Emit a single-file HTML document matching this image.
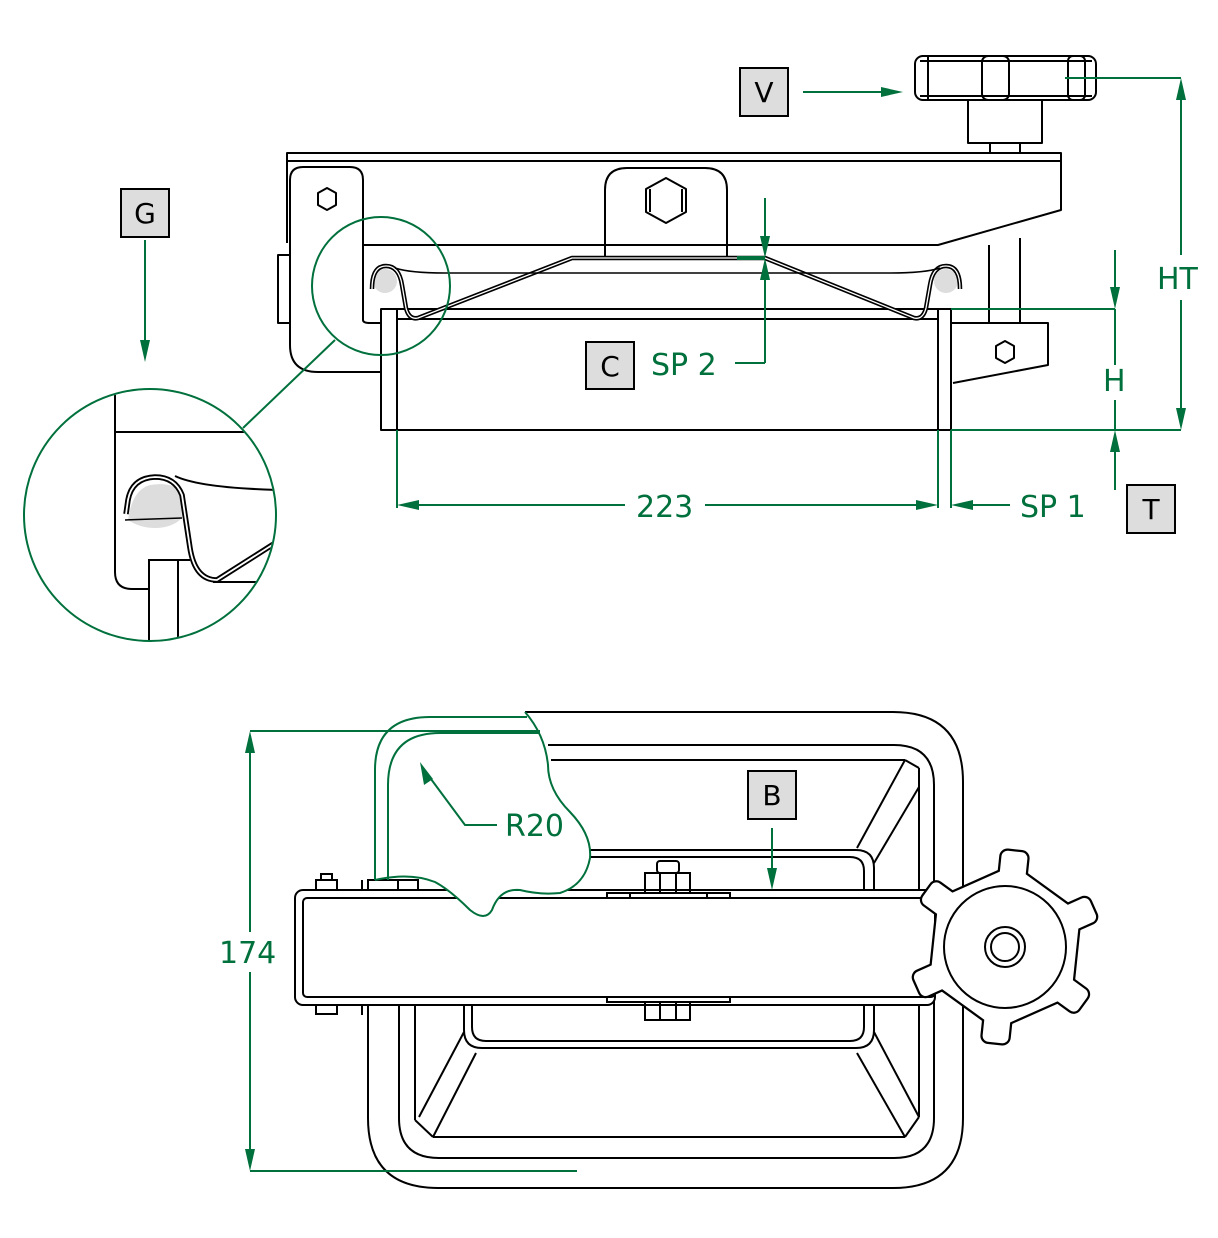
<!DOCTYPE html>
<html><head><meta charset="utf-8"><style>
html,body{margin:0;padding:0;background:#fff}
svg{display:block}
text{font-family:"DejaVu Sans","Liberation Sans",sans-serif}
</style></head><body>
<svg width="1218" height="1238" viewBox="0 0 1218 1238" xmlns="http://www.w3.org/2000/svg">
<defs>
<clipPath id="cg"><circle cx="150" cy="515" r="125"/></clipPath>
</defs>
<g fill="none" stroke="#000" stroke-width="2" stroke-linejoin="round">
<rect x="915" y="56" width="181" height="44" rx="8" fill="#fff"/>
<line x1="920" y1="61" x2="1092" y2="61"/><line x1="920" y1="96" x2="1092" y2="96"/>
<line x1="928" y1="57" x2="928" y2="99"/>
<rect x="982" y="56" width="27" height="44" rx="6"/>
<rect x="1068" y="56" width="17" height="44" rx="5"/>
<rect x="968" y="100" width="74" height="43"/>
<rect x="990" y="143" width="30" height="10"/>
<path d="M287,243 L287,153 L1061,153 L1061,210 L938,245 L363,245"/>
<line x1="287" y1="161" x2="1061" y2="161"/>
<path d="M363,320 L363,180 Q363,167 350,167 L303,167 Q290,167 290,180 L290,345 Q290,372 318,372 L381,372"/>
<path d="M363,320 Q363,323 370,323 L381,323"/>
<rect x="278" y="255" width="12" height="68"/>
<polygon points="327,188 336,193 336,205 327,210 318,205 318,193"/>
<path d="M605,258 L605,190 Q605,168 627,168 L705,168 Q727,168 727,190 L727,258"/>
<polygon points="666,178 686,189 686,212 666,223 646,212 646,189"/>
<line x1="650" y1="189" x2="650" y2="212"/><line x1="682" y1="189" x2="682" y2="212"/>
<line x1="989" y1="245" x2="989" y2="323"/><line x1="1020" y1="238" x2="1020" y2="323"/>
<path d="M951,323 L1048,323 L1048,365 L953,383"/>
<polygon points="1005,341 1014,346 1014,358 1005,363 996,358 996,346"/>
<rect x="381" y="309" width="570" height="121"/>
<line x1="397" y1="309" x2="397" y2="430"/><line x1="938" y1="309" x2="938" y2="430"/>
<line x1="397" y1="319" x2="938" y2="319"/>
<circle cx="385" cy="281" r="12" fill="#ddd" stroke="none"/>
<circle cx="946" cy="281" r="12" fill="#ddd" stroke="none"/>
<path d="M372,289 Q372,266 386,266 Q399,266 402,285 L406,308 Q409,320 418,318 L572,258 L765,258 L914,318 Q923,320 926,308 L930,285 Q933,266 946,266 Q960,266 960,289" stroke-width="4.5"/>
<path d="M372,289 Q372,266 386,266 Q399,266 402,285 L406,308 Q409,320 418,318 L572,258 L765,258 L914,318 Q923,320 926,308 L930,285 Q933,266 946,266 Q960,266 960,289" stroke="#fff" stroke-width="1.3"/>
<path d="M395,268 Q410,273 445,273 L890,273 Q925,273 940,268" stroke-width="1.5"/>
</g>
<g clip-path="url(#cg)" fill="none" stroke="#000" stroke-width="2">
<path d="M115,380 L115,572 Q115,589 132,589 L149,589"/>
<line x1="115" y1="432" x2="280" y2="432"/>
<path d="M128,520 Q140,528 155,528 Q172,528 182,518 L180,490 Q170,482 150,485 Q132,490 128,520Z" fill="#ddd" stroke="none"/>
<line x1="125" y1="520" x2="182" y2="518" stroke-width="1.5"/>
<path d="M126,514 L128,500 Q132,478 155,477 Q175,477 182,495 L190,548 Q195,580 217,580 L280,540" stroke-width="5.5"/>
<path d="M126,514 L128,500 Q132,478 155,477 Q175,477 182,495 L190,548 Q195,580 217,580 L280,540" stroke="#fff" stroke-width="1.8"/>
<path d="M175,476 Q200,488 280,490"/>
<rect x="149" y="560" width="29" height="90"/>
<line x1="178" y1="560" x2="190" y2="560"/>
<line x1="213" y1="582" x2="260" y2="582"/>
</g>
<g fill="none" stroke="#000" stroke-width="2">
<path d="M525,712 L893,712 Q963,712 963,782 L963,1118 Q963,1188 893,1188 L438,1188 Q368,1188 368,1118 L368,893"/>
<path d="M548,745 L894,745 Q934,745 934,785 L934,1118 Q934,1158 894,1158 L439,1158 Q399,1158 399,1118 L399,1003"/>
<line x1="551" y1="760" x2="905" y2="760"/>
<line x1="905" y1="760" x2="857" y2="848"/><line x1="919" y1="787" x2="874" y2="863"/>
<line x1="919" y1="768" x2="919" y2="1117"/><line x1="905" y1="760" x2="919" y2="768"/>
<line x1="415" y1="1003" x2="415" y2="1120"/>
<line x1="415" y1="1120" x2="433" y2="1137"/><line x1="433" y1="1137" x2="905" y2="1137"/><line x1="905" y1="1137" x2="919" y2="1117"/>
<line x1="464" y1="1032" x2="419" y2="1117"/><line x1="476" y1="1053" x2="433" y2="1137"/>
<line x1="857" y1="1053" x2="905" y2="1137"/><line x1="874" y1="1032" x2="919" y2="1117"/>
<path d="M588,850 L856,850 Q874,850 874,868 L874,893"/>
<path d="M588,857 L850,857 Q864,857 864,871 L864,893"/>
<path d="M464,1003 L464,1030 Q464,1048 482,1048 L856,1048 Q874,1048 874,1030 L874,1003"/>
<path d="M472,1003 L472,1027 Q472,1041 486,1041 L850,1041 Q864,1041 864,1027 L864,1003"/>
<rect x="295" y="890" width="640" height="115" rx="8" fill="#fff"/>
<rect x="303" y="898" width="632" height="99" rx="4"/>
<rect x="607" y="893" width="123" height="5"/><line x1="630" y1="893" x2="630" y2="898"/><line x1="707" y1="893" x2="707" y2="898"/>
<rect x="645" y="873" width="45" height="20"/><rect x="657" y="861" width="22" height="12" rx="3"/>
<line x1="660" y1="873" x2="660" y2="893"/><line x1="676" y1="873" x2="676" y2="893"/>
<rect x="607" y="997" width="123" height="5"/>
<rect x="645" y="1002" width="45" height="18"/><line x1="660" y1="1002" x2="660" y2="1020"/><line x1="676" y1="1002" x2="676" y2="1020"/>
<rect x="316" y="880" width="21" height="10"/><rect x="321" y="874" width="11" height="6"/>
<rect x="316" y="1005" width="21" height="9"/>
<line x1="362" y1="880" x2="362" y2="890"/><line x1="362" y1="1005" x2="362" y2="1015"/>
<line x1="303" y1="1005" x2="362" y2="1005"/>
<rect x="368" y="880" width="50" height="10"/><line x1="398" y1="880" x2="398" y2="890"/>
</g>
<g transform="translate(1005,947)">
<g stroke="#000" stroke-width="4.5" fill="#000">
<polygon points="8.6,-81.5 74.9,-33.4 66.3,48.2 -8.6,81.5 -74.9,33.4 -66.3,-48.2"/>
<g transform="rotate(6)"><rect x="-13" y="-96" width="26" height="30" rx="6"/></g>
<g transform="rotate(66)"><rect x="-13" y="-96" width="26" height="30" rx="6"/></g>
<g transform="rotate(126)"><rect x="-13" y="-96" width="26" height="30" rx="6"/></g>
<g transform="rotate(186)"><rect x="-13" y="-96" width="26" height="30" rx="6"/></g>
<g transform="rotate(246)"><rect x="-13" y="-96" width="26" height="30" rx="6"/></g>
<g transform="rotate(306)"><rect x="-13" y="-96" width="26" height="30" rx="6"/></g>
</g>
<g fill="#fff" stroke="none">
<polygon points="8.6,-81.5 74.9,-33.4 66.3,48.2 -8.6,81.5 -74.9,33.4 -66.3,-48.2"/>
<g transform="rotate(6)"><rect x="-13" y="-96" width="26" height="30" rx="6"/></g>
<g transform="rotate(66)"><rect x="-13" y="-96" width="26" height="30" rx="6"/></g>
<g transform="rotate(126)"><rect x="-13" y="-96" width="26" height="30" rx="6"/></g>
<g transform="rotate(186)"><rect x="-13" y="-96" width="26" height="30" rx="6"/></g>
<g transform="rotate(246)"><rect x="-13" y="-96" width="26" height="30" rx="6"/></g>
<g transform="rotate(306)"><rect x="-13" y="-96" width="26" height="30" rx="6"/></g>
</g>
<g fill="none" stroke="#000" stroke-width="2">
<circle r="61"/><circle r="20"/><circle r="14"/>
</g>
</g>
<g fill="none" stroke="#00703c" stroke-width="2">
<path d="M525,712 Q545,735 548,765 Q548,790 570,812 Q592,835 590,858 Q585,885 560,893 Q540,895 520,890 Q500,888 492,910 Q485,922 470,910 Q450,890 435,882 Q410,872 375,880" fill="#fff"/>
<path d="M375,880 L375,770 Q375,717 430,717 L527,717"/>
<path d="M388,880 L388,785 Q388,733 440,733 L540,733"/>
</g>
<g fill="none" stroke="#00703c" stroke-width="2">
<circle cx="381" cy="286" r="69"/>
<circle cx="150" cy="515" r="126"/>
<line x1="335" y1="340" x2="243" y2="428"/>
<line x1="145" y1="240" x2="145" y2="345"/>
<line x1="803" y1="92" x2="888" y2="92"/>
<line x1="1065" y1="78" x2="1181" y2="78"/>
<line x1="1181" y1="95" x2="1181" y2="255"/><line x1="1181" y1="300" x2="1181" y2="413"/>
<line x1="951" y1="309" x2="1115" y2="309"/>
<line x1="951" y1="430" x2="1181" y2="430"/>
<line x1="1115" y1="250" x2="1115" y2="292"/><line x1="1115" y1="447" x2="1115" y2="490"/>
<line x1="1115" y1="309" x2="1115" y2="365"/><line x1="1115" y1="400" x2="1115" y2="430"/>
<line x1="397" y1="430" x2="397" y2="508"/><line x1="938" y1="430" x2="938" y2="508"/><line x1="951" y1="430" x2="951" y2="508"/>
<line x1="414" y1="505" x2="625" y2="505"/><line x1="705" y1="505" x2="921" y2="505"/>
<line x1="968" y1="505" x2="1010" y2="505"/>
<line x1="765" y1="198" x2="765" y2="241"/><line x1="765" y1="275" x2="765" y2="363"/><line x1="735" y1="363" x2="765" y2="363"/>
<line x1="737" y1="258" x2="765" y2="258" stroke-width="4"/>
<line x1="772" y1="828" x2="772" y2="873"/>
<line x1="250" y1="731" x2="540" y2="731"/><line x1="250" y1="1171" x2="577" y2="1171"/>
<line x1="250" y1="748" x2="250" y2="932"/><line x1="250" y1="972" x2="250" y2="1154"/>
<polyline points="497,825 465,825 428,775"/>
</g>
<g fill="#00703c">
<polygon points="145,362 140,340 150,340"/>
<polygon points="903,92 881,87 881,97"/>
<polygon points="1181,78 1176,100 1186,100"/>
<polygon points="1181,430 1176,408 1186,408"/>
<polygon points="1115,309 1110,287 1120,287"/>
<polygon points="1115,430 1110,452 1120,452"/>
<polygon points="397,505 419,500 419,510"/>
<polygon points="938,505 916,500 916,510"/>
<polygon points="951,505 973,500 973,510"/>
<polygon points="765,258 760,236 770,236"/>
<polygon points="765,258 760,280 770,280"/>
<polygon points="772,890 767,868 777,868"/>
<polygon points="250,731 245,753 255,753"/>
<polygon points="250,1171 245,1149 255,1149"/>
<polygon points="420,762 424,785 433,779"/>
</g>
<g fill="#00703c" font-size="30">
<text x="1157" y="289">HT</text>
<text x="1103" y="391">H</text>
<text x="636" y="517">223</text>
<text x="1020" y="517">SP 1</text>
<text x="651" y="375">SP 2</text>
<text x="505" y="836">R20</text>
<text x="219" y="963">174</text>
</g>
<g stroke="#000" stroke-width="2" fill="#ddd">
<rect x="740" y="68" width="48" height="48"/>
<rect x="121" y="189" width="48" height="48"/>
<rect x="586" y="342" width="48" height="47"/>
<rect x="1127" y="485" width="48" height="48"/>
<rect x="748" y="771" width="48" height="48"/>
</g>
<g fill="#000" font-size="28" text-anchor="middle">
<text x="764" y="102">V</text>
<text x="145" y="223">G</text>
<text x="610" y="376">C</text>
<text x="1151" y="519">T</text>
<text x="772" y="805">B</text>
</g>
</svg>
</body></html>
